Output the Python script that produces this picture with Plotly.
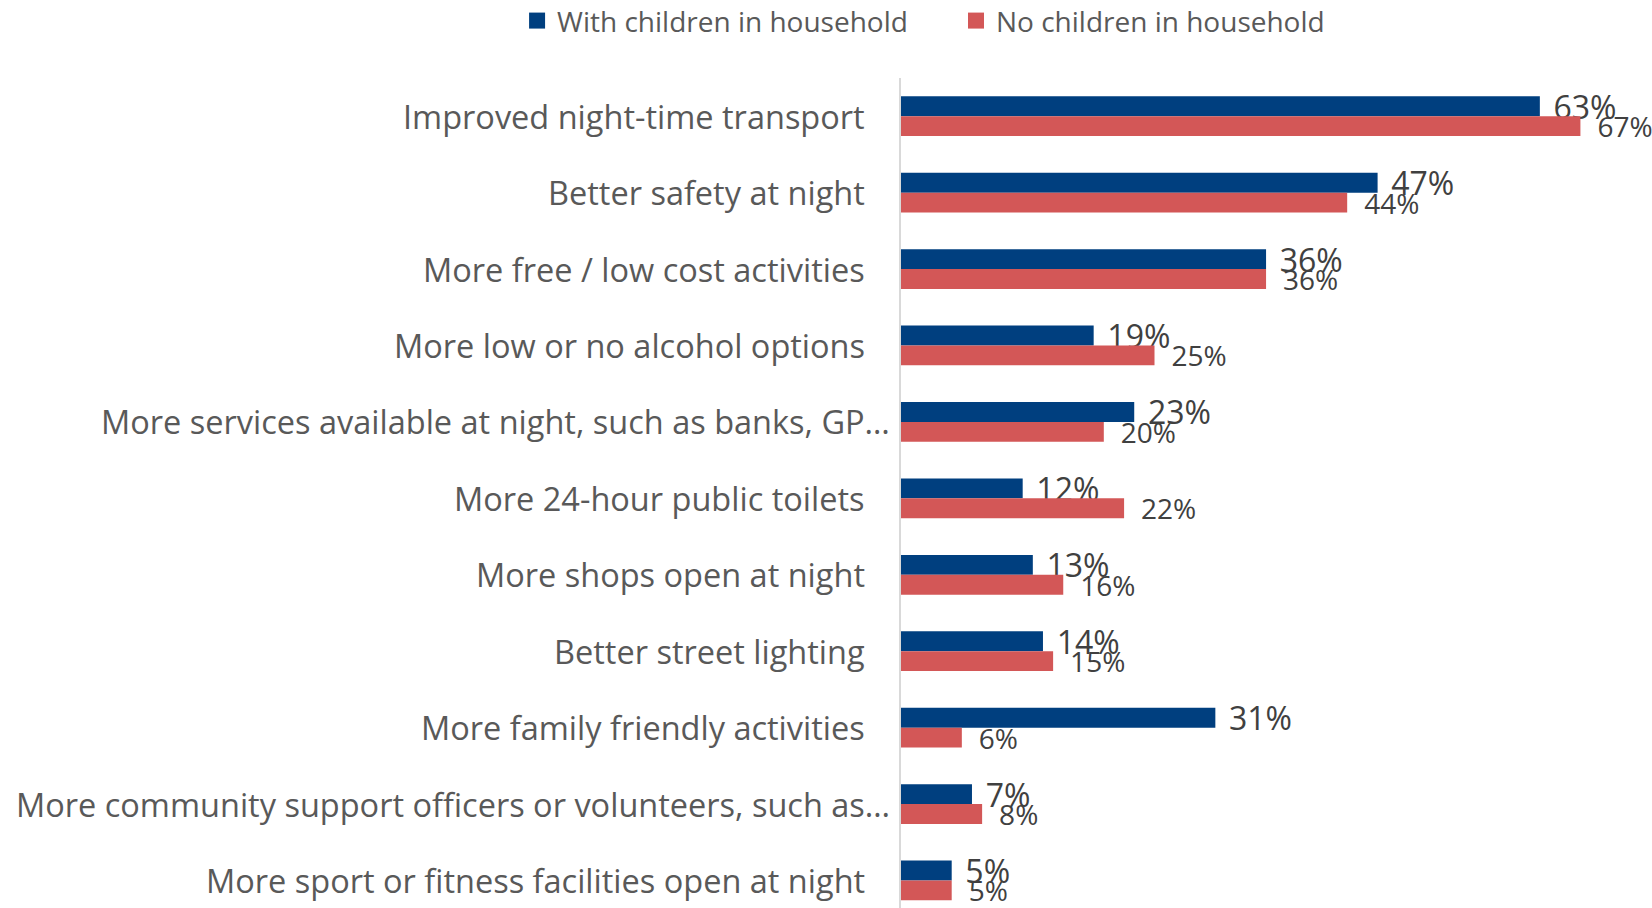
import plotly.graph_objects as go

categories = [
    "Improved night-time transport",
    "Better safety at night",
    "More free / low cost activities",
    "More low or no alcohol options",
    "More services available at night, such as banks, GP…",
    "More 24-hour public toilets",
    "More shops open at night",
    "Better street lighting",
    "More family friendly activities",
    "More community support officers or volunteers, such as…",
    "More sport or fitness facilities open at night",
]
with_children = [63, 47, 36, 19, 23, 12, 13, 14, 31, 7, 5]
no_children = [67, 44, 36, 25, 20, 22, 16, 15, 6, 8, 5]
series_names = ["With children in household", "No children in household"]

BLUE = "#003f7f"
RED = "#d35757"
FONT = "Open Sans"
LABEL_GREY = "#404040"
TEXT_GREY = "#595959"

fig = go.Figure()
for name, values, color, size, lead in [
    (series_names[0], with_children, BLUE, 32, "\u2004"),
    (series_names[1], no_children, RED, 28, "\u2002"),
]:
    fig.add_trace(go.Bar(
        name=name, y=categories, x=values, orientation="h",
        marker=dict(color=color, line=dict(width=0)),
        text=[f"{lead}{v}%" for v in values],
        textposition="outside", cliponaxis=False, constraintext="none",
        textfont=dict(family=FONT, size=size, color=LABEL_GREY),
        showlegend=False,
    ))

# legend entries with larger square swatches, one legend box per series
for name, color, leg in [(series_names[0], BLUE, "legend"), (series_names[1], RED, "legend2")]:
    fig.add_trace(go.Scatter(
        x=[None], y=[None], mode="markers", name=name,
        marker=dict(symbol="square", size=17, color=color),
        showlegend=True, legend=leg,
    ))

# category labels, right-aligned against the axis; truncated labels sit closer
for cat in categories:
    fig.add_annotation(
        x=0, xref="paper", y=cat, yref="y",
        text=cat, showarrow=False,
        xanchor="right", yanchor="middle",
        xshift=-9 if cat.endswith("…") else -34,
        font=dict(family=FONT, size=32.5, color=TEXT_GREY),
    )

legend_style = dict(
    orientation="h", xref="container", xanchor="left",
    y=0.977, yref="container", yanchor="middle",
    font=dict(size=28, color=TEXT_GREY),
    bgcolor="rgba(0,0,0,0)",
)

fig.update_layout(
    width=1652, height=908,
    margin=dict(l=901, r=0, t=78, b=0, autoexpand=False),
    paper_bgcolor="white", plot_bgcolor="white",
    barmode="group", bargap=0.48, bargroupgap=0,
    font=dict(family=FONT, color=TEXT_GREY),
    legend=dict(x=0.313, **legend_style),
    legend2=dict(x=0.5787, **legend_style),
)
fig.update_xaxes(range=[0, 74.06], visible=False, showgrid=False, zeroline=False)
fig.update_yaxes(
    type="category", range=[10.36, -0.5], automargin=False,
    showgrid=False, zeroline=False, showticklabels=False,
    showline=True, linecolor="#d9d9d9", linewidth=2, ticks="",
)

fig.write_html("out.html")
